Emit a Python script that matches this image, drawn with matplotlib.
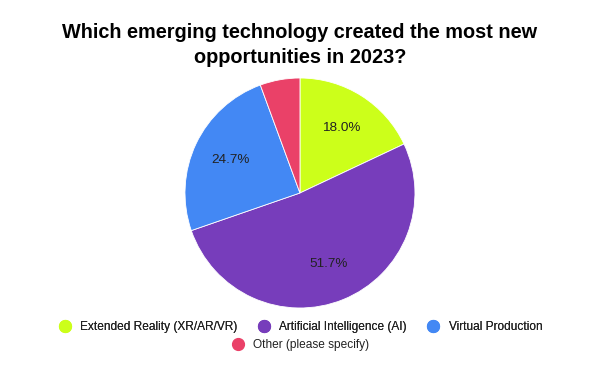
import matplotlib.pyplot as plt
from matplotlib.lines import Line2D

plt.rcParams['font.family'] = ['Liberation Sans', 'DejaVu Sans']

# data
labels = ['Extended Reality (XR/AR/VR)', 'Artificial Intelligence (AI)',
          'Virtual Production', 'Other (please specify)']
shares = [18.0, 51.7, 24.7, 5.6]
colors = ['#ccff1a', '#773dbb', '#4388f4', '#ea4168']

fig = plt.figure(figsize=(6, 3.71), dpi=100)
ax = fig.add_axes([0.3083, 0.1698, 0.3833, 0.62])

ax.pie(shares, colors=colors, startangle=90, counterclock=False,
       autopct=lambda p: f'{p:.1f}%' if p > 10 else '',
       pctdistance=0.67, radius=1.0,
       wedgeprops=dict(linewidth=0.6, edgecolor='white'),
       textprops=dict(fontsize=9.7, color='#222222'))
ax.set_xlim(-1, 1)
ax.set_ylim(-1, 1)
ax.set_aspect('equal')

fig.text(0.5, 0.878, 'Which emerging technology created the most new\nopportunities in 2023?',
         ha='center', va='center', fontsize=14.3, fontweight='bold', linespacing=1.4)

# legend: 3 on first row, 1 centered on second
handles = [Line2D([], [], marker='o', linestyle='', markersize=8.5,
                  markerfacecolor=c, markeredgecolor=c) for c in colors]
leg1 = fig.legend(handles[:3], labels[:3], loc='center', bbox_to_anchor=(0.5, 0.119),
                  ncol=3, frameon=False, fontsize=8.6, handletextpad=0.7,
                  columnspacing=1.6, handlelength=1.2, labelcolor='#222222')
fig.add_artist(leg1)
fig.legend(handles[3:], labels[3:], loc='center', bbox_to_anchor=(0.5, 0.07),
           ncol=1, frameon=False, fontsize=8.6, handletextpad=0.7,
           handlelength=1.2, labelcolor='#222222')

fig.savefig('out.png', dpi=100)
